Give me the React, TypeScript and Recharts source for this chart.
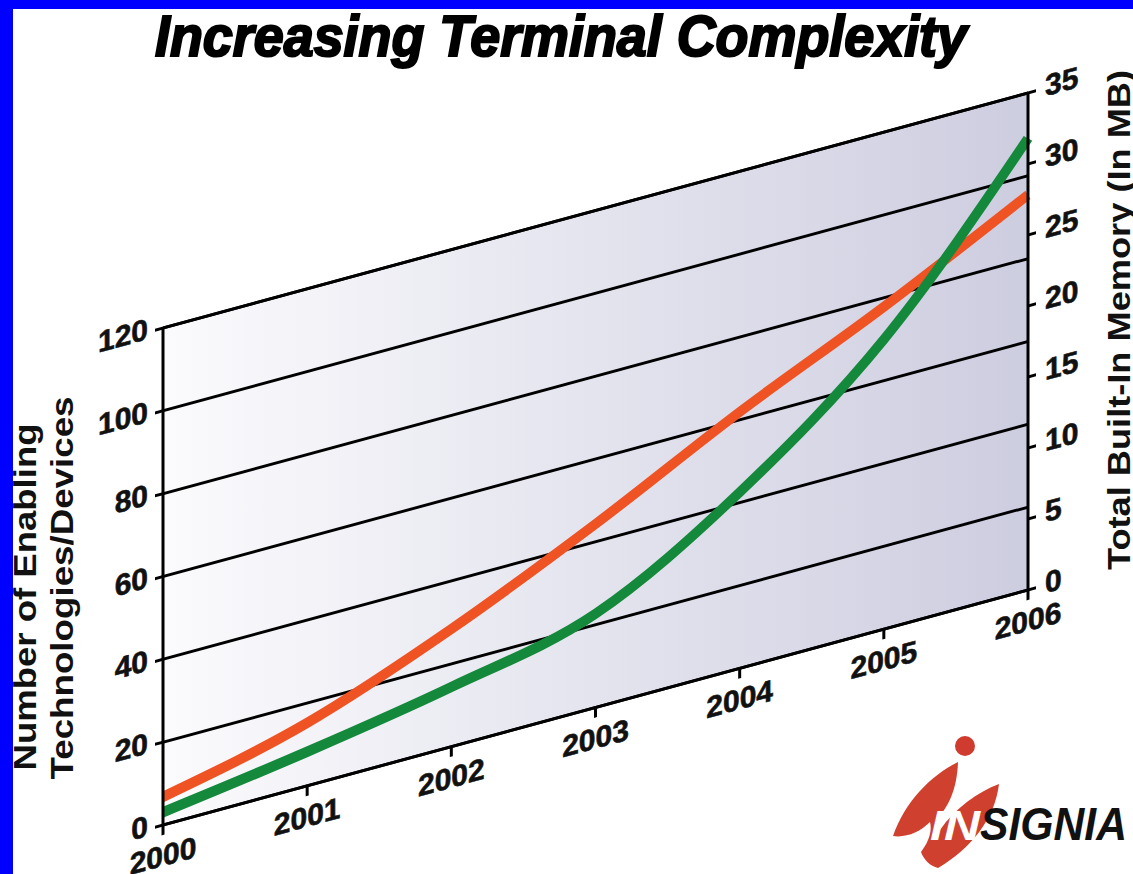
import React from 'react';
import { LineChart, Line, XAxis, YAxis, CartesianGrid, ReferenceLine } from 'recharts';

const years = [2000, 2001, 2002, 2003, 2004, 2005, 2006];
const technologies = [6.8, 15.2, 28.4, 44.3, 61.9, 77.8, 95.4];
const memoryMB = [0.9, 2.4, 4.2, 6.6, 12.4, 20.4, 31.8];
const leftTicks = [0, 20, 40, 60, 80, 100, 120];
const rightTicks = [0, 5, 10, 15, 20, 25, 30, 35];

const data = years.map((year, i) => ({ year, technologies: technologies[i], memory: memoryMB[i] }));

const FONT = '"Liberation Sans", Arial, Helvetica, sans-serif';

const XTick = (props: any) => {
  const { x, y, payload } = props;
  return (
    <text x={x} y={y} dy={31} textAnchor="middle" fontFamily={FONT} fontWeight="bold" fontSize={30} fill="#111" stroke="#111" strokeWidth={0.6}>
      {payload.value}
    </text>
  );
};

const LeftTick = (props: any) => {
  const { x, y, payload } = props;
  return (
    <text x={x} y={y} dy={7} textAnchor="end" fontFamily={FONT} fontWeight="bold" fontSize={30} fill="#111" stroke="#111" strokeWidth={0.6}>
      {payload.value}
    </text>
  );
};

const RightTick = (props: any) => {
  const { x, y, payload } = props;
  return (
    <text x={x} y={y} dy={8} textAnchor="start" fontFamily={FONT} fontWeight="bold" fontSize={30} fill="#111" stroke="#111" strokeWidth={0.6}>
      {payload.value}
    </text>
  );
};

export default function App() {
  return (
    <div style={{ position: 'absolute', left: 0, top: 0, width: 1133, height: 874, background: '#ffffff', overflow: 'hidden' }}>
      <div
        style={{
          position: 'absolute',
          left: 0,
          top: 0,
          width: 1133,
          height: 874,
          transform: 'skewY(-15.2deg)',
          transformOrigin: '163px 825px',
        }}
      >
        <LineChart width={1133} height={874} data={data} margin={{ top: 328, right: 45, bottom: 9, left: 103 }}>
          <defs>
            <linearGradient id="plotBg" x1="0" y1="0" x2="1" y2="0">
              <stop offset="0%" stopColor="#fbfbfd" />
              <stop offset="100%" stopColor="#cdcde0" />
            </linearGradient>
          </defs>
          <CartesianGrid
            yAxisId="left"
            vertical={false}
            stroke="#000"
            strokeWidth={3}
            fill="url(#plotBg)"
            fillOpacity={1}
          />
          <XAxis
            dataKey="year"
            type="number"
            domain={[2000, 2006]}
            ticks={years}
            height={40}
            tickSize={10}
            tickMargin={0}
            axisLine={{ stroke: '#000', strokeWidth: 3 }}
            tickLine={{ stroke: '#000', strokeWidth: 3 }}
            tick={<XTick />}
            interval={0}
          />
          <YAxis
            yAxisId="left"
            orientation="left"
            domain={[0, 120]}
            ticks={leftTicks}
            width={60}
            tickSize={8}
            tickMargin={7}
            axisLine={{ stroke: '#000', strokeWidth: 3 }}
            tickLine={{ stroke: '#000', strokeWidth: 3 }}
            tick={<LeftTick />}
            interval={0}
          />
          <YAxis
            yAxisId="right"
            orientation="right"
            domain={[0, 35]}
            ticks={rightTicks}
            width={60}
            tickSize={8}
            tickMargin={9}
            axisLine={{ stroke: '#000', strokeWidth: 3 }}
            tickLine={{ stroke: '#000', strokeWidth: 3 }}
            tick={<RightTick />}
            interval={0}
          />
          <ReferenceLine yAxisId="left" y={120} stroke="#000" strokeWidth={3} />
          <Line
            yAxisId="left"
            dataKey="technologies"
            type="monotone"
            stroke="#ef5323"
            strokeWidth={11}
            dot={false}
            activeDot={false}
            isAnimationActive={false}
          />
          <Line
            yAxisId="right"
            dataKey="memory"
            type="monotone"
            stroke="#14893b"
            strokeWidth={11}
            dot={false}
            activeDot={false}
            isAnimationActive={false}
          />
        </LineChart>
      </div>
      <svg width={1133} height={874} style={{ position: 'absolute', left: 0, top: 0, pointerEvents: 'none' }}>
        <text
          x={155}
          y={56}
          fontFamily={FONT}
          fontWeight="bold"
          fontStyle="italic"
          fontSize={58}
          textLength={812}
          lengthAdjust="spacingAndGlyphs"
          fill="#000"
          stroke="#000"
          strokeWidth={2.2}
        >
          Increasing Terminal Complexity
        </text>
        <text
          transform="translate(36,597) rotate(-90)"
          textAnchor="middle"
          fontFamily={FONT}
          fontWeight="bold"
          fontSize={32}
          textLength={347}
          lengthAdjust="spacingAndGlyphs"
          fill="#111"
        >
          Number of Enabling
        </text>
        <text
          transform="translate(73,588) rotate(-90)"
          textAnchor="middle"
          fontFamily={FONT}
          fontWeight="bold"
          fontSize={32}
          textLength={383}
          lengthAdjust="spacingAndGlyphs"
          fill="#111"
        >
          Technologies/Devices
        </text>
        <text
          transform="translate(1130,570) rotate(-90)"
          textAnchor="start"
          fontFamily={FONT}
          fontWeight="bold"
          fontSize={32}
          textLength={500}
          lengthAdjust="spacingAndGlyphs"
          fill="#111"
        >
          Total Built-In Memory (In MB)
        </text>
        {/* logo */}
        <circle cx={965} cy={746} r={10} fill="#cf3b2e" />
        <path
          d="M 893 836 C 905 802, 930 776, 958 762 C 957 790, 948 808, 936 820 L 945 800 L 940 830 C 955 808, 978 792, 999 784 C 995 818, 972 848, 938 868 C 930 866, 924 860, 921 852 C 930 840, 932 830, 930 822 C 920 832, 906 838, 893 836 Z"
          fill="#d0402f"
        />
        <text
          x={930}
          y={840}
          fontFamily={FONT}
          fontWeight="bold"
          fontStyle="italic"
          fontSize={42}
          textLength={50}
          lengthAdjust="spacingAndGlyphs"
          fill="#ffffff"
        >
          IN
        </text>
        <text
          x={980}
          y={840}
          fontFamily={FONT}
          fontWeight="bold"
          fontStyle="italic"
          fontSize={46}
          textLength={147}
          lengthAdjust="spacingAndGlyphs"
          fill="#111"
        >
          SIGNIA
        </text>
        <rect x={0} y={0} width={1133} height={9} fill="#0000ff" />
        <rect x={0} y={0} width={13} height={874} fill="#0000ff" />
      </svg>
    </div>
  );
}
